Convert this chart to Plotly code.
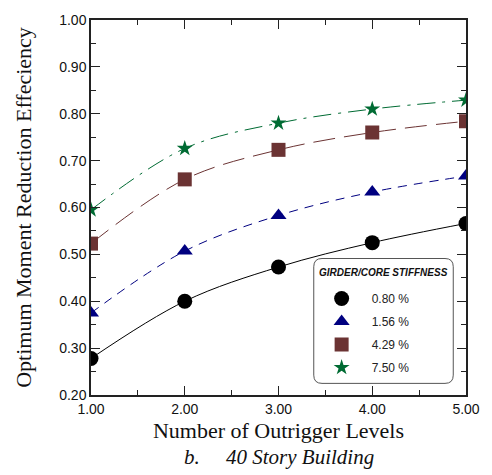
import plotly.graph_objects as go

# Number of outrigger levels
levels = [1, 2, 3, 4, 5]

# Optimum moment reduction efficiency for each girder/core stiffness ratio
eff_080 = [0.278, 0.400, 0.473, 0.525, 0.566]
eff_156 = [0.375, 0.507, 0.583, 0.633, 0.667]
eff_429 = [0.523, 0.660, 0.723, 0.760, 0.784]
eff_750 = [0.595, 0.726, 0.780, 0.810, 0.829]

labels = ["0.80 %", "1.56 %", "4.29 %", "7.50 %"]
x_ticks = [1, 2, 3, 4, 5]
y_ticks = [0.2, 0.3, 0.4, 0.5, 0.6, 0.7, 0.8, 0.9, 1.0]

series = [
    (eff_080, labels[0], "black", "solid", "circle", 15),
    (eff_156, labels[1], "#000080", "9px,7px", "triangle-up", 14),
    (eff_429, labels[2], "#6b3333", "22px,9px", "square", 14),
    (eff_750, labels[3], "#006b33", "18px,7px,3px,7px", "star", 12),
]

fig = go.Figure()

for i, (vals, name, color, dash, sym, size) in enumerate(series):
    fig.add_trace(go.Scatter(
        x=levels, y=vals, mode="lines", showlegend=False,
        line=dict(color=color, width=1, dash=dash, shape="spline", smoothing=1.0),
        hoverinfo="skip",
    ))
for i, (vals, name, color, dash, sym, size) in enumerate(series):
    fig.add_trace(go.Scatter(
        x=levels, y=vals, mode="markers", name="   " + name,
        legendgroup=f"g{i}",
        marker=dict(color=color, symbol=sym, size=size, line=dict(width=0)),
    ))

axis_common = dict(
    showgrid=False, zeroline=False, showline=True, linecolor="#222",
    linewidth=1.5, mirror="ticks", ticks="inside", ticklen=9, tickwidth=1.2,
    tickcolor="#222", tickformat=".2f",
    tickfont=dict(family="Liberation Sans, Arial", size=14, color="#111"),
)

fig.update_xaxes(
    range=[1, 5], tickvals=x_ticks,
    minor=dict(dtick=0.5, ticks="inside", ticklen=5, tickwidth=1.2, tickcolor="#222"),
    title=dict(text="Number of Outrigger Levels", standoff=7,
               font=dict(family="Liberation Serif, Times New Roman", size=22, color="#111")),
    **axis_common,
)
fig.update_yaxes(
    range=[0.2, 1.0], tickvals=y_ticks,
    minor=dict(dtick=0.05, ticks="inside", ticklen=5, tickwidth=1.2, tickcolor="#222"),
    title=dict(text="Optimum Moment Reduction Effeciency", standoff=22,
               font=dict(family="Liberation Serif, Times New Roman", size=22, color="#111")),
    **axis_common,
)

# Rounded frame around the legend
x0, x1, y0, y1 = 0.594, 0.966, 0.031, 0.364
rx, ry = 0.022, 0.022
path = (f"M {x0+rx},{y0} L {x1-rx},{y0} Q {x1},{y0} {x1},{y0+ry} "
        f"L {x1},{y1-ry} Q {x1},{y1} {x1-rx},{y1} L {x0+rx},{y1} "
        f"Q {x0},{y1} {x0},{y1-ry} L {x0},{y0+ry} Q {x0},{y0} {x0+rx},{y0} Z")
fig.add_shape(type="path", path=path, xref="paper", yref="paper",
              line=dict(color="#555", width=1), fillcolor="white", layer="below")

fig.update_layout(
    width=492, height=475,
    margin=dict(l=91, r=19, t=13, b=80),
    plot_bgcolor="white", paper_bgcolor="white",
    legend=dict(
        x=0.615, y=0.296, xanchor="left", yanchor="top",
        bgcolor="rgba(0,0,0,0)", borderwidth=0,
        traceorder="grouped", tracegroupgap=4,
        font=dict(family="Liberation Sans, Arial", size=12, color="#222"),
    ),
    annotations=[
        dict(text="<b><i>GIRDER/CORE STIFFNESS</i></b>", xref="paper", yref="paper",
             x=0.78, y=0.327, xanchor="center", yanchor="middle", showarrow=False,
             font=dict(family="Liberation Sans, Arial", size=10, color="#111")),
        dict(text="<i>b.     40 Story Building</i>", xref="paper", yref="paper",
             x=0.5, y=-0.165, xanchor="center", yanchor="middle", showarrow=False,
             font=dict(family="Liberation Serif, Times New Roman", size=21, color="#111")),
    ],
)

fig.write_html("out.html")
